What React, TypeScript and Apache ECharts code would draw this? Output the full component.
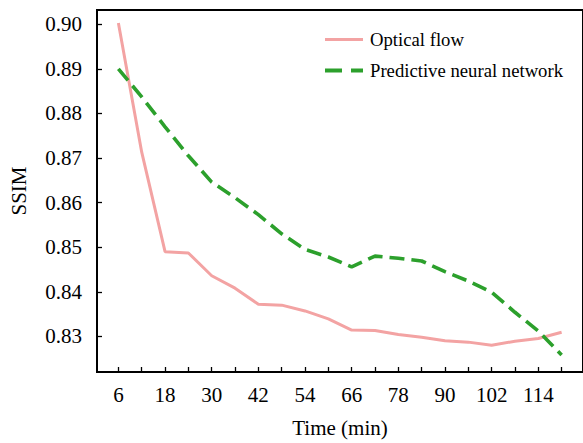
import React, { useEffect, useRef } from "react";
import * as echarts from "echarts";

const times = [6, 12, 18, 24, 30, 36, 42, 48, 54, 60, 66, 72, 78, 84, 90, 96, 102, 108, 114, 120];
const opticalFlow = [0.9003, 0.8713, 0.849, 0.8487, 0.8436, 0.8408, 0.8372, 0.837, 0.8357, 0.8339, 0.8314, 0.8313, 0.8304, 0.8298, 0.829, 0.8287, 0.828, 0.8289, 0.8295, 0.8309];
const predictive = [0.89, 0.8837, 0.877, 0.8705, 0.8646, 0.8611, 0.8573, 0.853, 0.8495, 0.8478, 0.8456, 0.848, 0.8475, 0.8469, 0.8445, 0.8424, 0.8399, 0.8354, 0.8312, 0.8258];
const xTickLabels = [6, 18, 30, 42, 54, 66, 78, 90, 102, 114];
const yTickLabels = [0.83, 0.84, 0.85, 0.86, 0.87, 0.88, 0.89, 0.9];
const seriesNames = ["Optical flow", "Predictive neural network"];

const FONT = "Liberation Serif";
const PINK = "#F3A3A3";
const GREEN = "#2CA02C";

export default function App() {
  const ref = useRef<HTMLDivElement>(null);
  useEffect(() => {
    const chart = echarts.init(ref.current!, null, { renderer: "svg" });
    chart.setOption({
      animation: false,
      backgroundColor: "#fff",
      textStyle: { fontFamily: FONT },
      grid: {
        left: 95,
        top: 10,
        right: -2,
        bottom: 69,
        show: true,
        borderColor: "#000",
        borderWidth: 2,
        backgroundColor: "transparent",
      },
      legend: {
        orient: "vertical",
        left: 325,
        top: 30,
        padding: 0,
        itemWidth: 38,
        itemHeight: 4,
        itemGap: 12,
        textStyle: { fontFamily: FONT, fontSize: 18.7, color: "#000", padding: [0, 0, 0, 2] },
        data: [
          { name: seriesNames[0], icon: "path://M0,0H38V3.2H0Z" },
          { name: seriesNames[1], icon: "path://M0,0H17V4H0Z M26,0H38V4H26Z" },
        ],
      },
      xAxis: {
        type: "value",
        min: 0.5,
        max: 125.5,
        name: "Time (min)",
        nameLocation: "middle",
        nameGap: 45,
        nameTextStyle: { fontFamily: FONT, fontSize: 21, color: "#000" },
        axisLine: { lineStyle: { color: "#000", width: 2 } },
        axisTick: { inside: true, length: 5, customValues: times, lineStyle: { color: "#000", width: 1.3 } },
        axisLabel: {
          customValues: xTickLabels,
          margin: 12,
          fontFamily: FONT,
          fontSize: 21,
          color: "#000",
        },
        splitLine: { show: false },
      },
      yAxis: {
        type: "value",
        min: 0.822,
        max: 0.9032,
        name: "SSIM",
        nameLocation: "middle",
        nameGap: 68,
        nameTextStyle: { fontFamily: FONT, fontSize: 21, color: "#000" },
        axisLine: { show: true, lineStyle: { color: "#000", width: 2 } },
        axisTick: { show: true, inside: true, length: 5, customValues: yTickLabels, lineStyle: { color: "#000", width: 1.3 } },
        axisLabel: {
          customValues: yTickLabels,
          margin: 15,
          fontFamily: FONT,
          fontSize: 21,
          color: "#000",
          formatter: (v: number) => v.toFixed(2),
        },
        splitLine: { show: false },
      },
      series: [
        {
          name: seriesNames[0],
          type: "line",
          data: times.map((t, i) => [t, opticalFlow[i]]),
          symbol: "none",
          lineStyle: { color: PINK, width: 3 },
          itemStyle: { color: PINK },
        },
        {
          name: seriesNames[1],
          type: "line",
          data: times.map((t, i) => [t, predictive[i]]),
          symbol: "none",
          lineStyle: { color: GREEN, width: 3.6, type: [15, 7] },
          itemStyle: { color: GREEN },
        },
      ],
    });
    return () => chart.dispose();
  }, []);
  return (
    <div
      ref={ref}
      style={{ position: "fixed", left: 0, top: 0, width: 583, height: 443 }}
    />
  );
}
